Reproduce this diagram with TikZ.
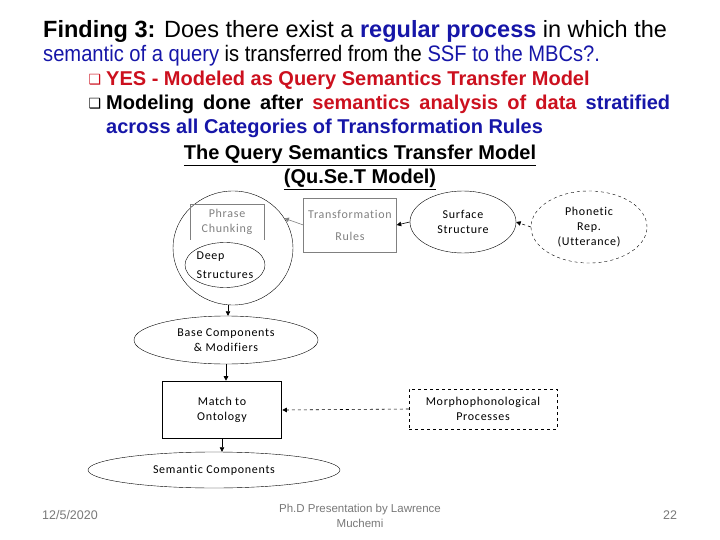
\documentclass[tikz,border=0pt]{standalone}
\usepackage{fontspec}
\usepackage{xcolor}
\usetikzlibrary{arrows.meta,positioning,shapes.geometric}
\setmainfont{Liberation Sans}
\newfontfamily\diagfont[LetterSpace=6,Ligatures=NoCommon]{Carlito}
\newfontfamily\symfont{DejaVu Sans}
\definecolor{qblue}{RGB}{22,22,168}
\definecolor{qred}{RGB}{204,16,30}
\definecolor{footgray}{RGB}{120,120,120}

\begin{document}
\begin{tikzpicture}[
  x=1pt,y=-1pt,
  every node/.style={inner sep=0pt,align=center},
  titletext/.style={anchor=west,font=\fontsize{23.5}{26}\selectfont},
  bodytext/.style={anchor=west,font=\fontsize{20}{24}\selectfont},
  lbl/.style={font=\diagfont\fontsize{12}{15}\selectfont},
  oval/.style={ellipse,draw,thin},
  boxnode/.style={rectangle,draw,thin},
  arrow/.style={-{Triangle[length=4.5pt,width=4.5pt]},semithick},
  foot/.style={font=\fontsize{12.5}{15}\selectfont,text=footgray}
]
\useasboundingbox (0,0) rectangle (720,540);

% heading
\node[titletext] (finding) at (43,31) {\textbf{Finding 3:} Does there exist a \textcolor{qblue}{\textbf{regular process}} in which the};
\node[bodytext,font=\fontsize{22.4}{24}\selectfont\addfontfeatures{FakeStretch=0.9}] (question) at (43,56)
  {\textcolor{qblue}{semantic of a query} is transferred from the \textcolor{qblue}{SSF to the MBCs?.}};
\node[text=qred,font=\symfont\fontsize{14}{15}\selectfont] (tick1) at (95,80) {❑};
\node[bodytext,text=qred] (yes) at (106,80) {\textbf{YES - Modeled as Query Semantics Transfer Model}};
\node[font=\symfont\fontsize{14}{15}\selectfont] (tick2) at (95,104) {❑};
\node[bodytext] (model1) at (106,104) {\makebox[564pt][s]{\textbf{Modeling done after \textcolor{qred}{semantics analysis of data} \textcolor{qblue}{stratified}}}};
\node[bodytext,text=qblue] (model2) at (106,128) {\textbf{across all Categories of Transformation Rules}};
\node[font=\fontsize{20}{24}\selectfont] (caption1) at (360,155) {\textbf{\underline{The Query Semantics Transfer Model}}};
\node[font=\fontsize{20}{24}\selectfont] (caption2) at (360,179) {\textbf{\underline{(Qu.Se.T Model)}}};

% diagram
\node[oval,minimum width=120,minimum height=114] (parser) at (233,248) {};
\node[lbl,text=gray,minimum width=74,minimum height=35] (chunk) at (227,222) {Phrase\\Chunking};
\draw[gray] (chunk.south west) -- (chunk.north west) -- (chunk.north east) -- (chunk.south east);
\node[oval,minimum width=80,minimum height=45,align=left,lbl,font=\diagfont\fontsize{12}{19}\selectfont] (deep) at (225,265) {Deep\\Structures};
\node[boxnode,draw=gray,lbl,text=gray,minimum width=93,minimum height=54] (rules) at (350,225) {Transformation\\[7pt]Rules};
\node[oval,lbl,minimum width=106,minimum height=62] (surface) at (463,222) {Surface\\Structure};
\node[oval,dashed,lbl,minimum width=116,minimum height=72] (phonetic) at (589,227) {Phonetic\\Rep.\\(Utterance)};
\node[oval,lbl,minimum width=184,minimum height=48] (base) at (226,340) {Base Components\\\& Modifiers};
\node[boxnode,line width=1.6pt,lbl,minimum width=119,minimum height=57] (match) at (222,410) {Match to\\Ontology};
\node[boxnode,dashed,lbl,minimum width=148,minimum height=40] (morpho) at (483,409) {Morphophonological\\Processes};
\node[oval,lbl,minimum width=252,minimum height=36] (semantic) at (214,470) {Semantic Components};

\draw[arrow,gray] (rules.west) -- (parser.30);
\draw[arrow] (surface.west) -- (rules.east);
\draw[arrow,dashed] (phonetic.west) -- (surface.east);
\draw[arrow] (parser.265) -- (parser.265 |- base.north);
\draw[arrow] (base.south) -- (base.south |- match.north);
\draw[arrow,dashed] (morpho.west) -- (match.east);
\draw[arrow] (match.south) -- (match.south |- semantic.north);

% footer
\node[foot] (date) at (70,515) {12/5/2020};
\node[foot,font=\fontsize{11.5}{15}\selectfont] (author) at (360,516) {Ph.D Presentation by Lawrence\\Muchemi};
\node[foot] (page) at (670,515) {22};
\end{tikzpicture}
\end{document}
